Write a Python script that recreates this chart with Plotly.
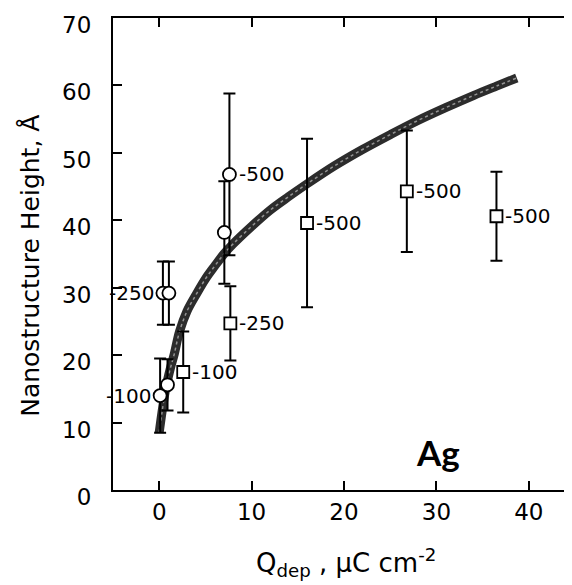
import plotly.graph_objects as go

# ---- data ----
fit_x = [0.0, 0.3, 0.7, 1.2, 1.6, 2.2, 3.0, 4.0, 5.0, 6.0, 7.0, 8.0, 10.0, 12.0, 14.0,
         16.0, 19.0, 22.0, 25.0, 28.0, 31.0, 34.0, 36.5, 38.7]
fit_y = [8.5, 11.5, 15.0, 18.0, 20.0, 23.5, 26.5, 29.0, 31.3, 33.2, 35.0, 36.5, 39.1,
         41.5, 43.5, 45.4, 48.1, 50.5, 52.7, 54.8, 56.7, 58.5, 59.9, 61.1]

circle_x = [0.1, 0.9, 0.4, 1.05, 7.05, 7.6]
circle_y = [14.0, 15.6, 29.2, 29.2, 38.2, 46.8]
circle_err = [5.5, 3.8, 4.7, 4.7, 7.6, 12.0]
circle_labels = ["-100", "", "-250", "", "", "-500"]
circle_label_side = ["left", "", "left", "", "", "right"]

square_x = [2.6, 7.7, 16.0, 26.8, 36.5]
square_y = [17.5, 24.7, 39.6, 44.3, 40.6]
square_err = [6.0, 5.5, 12.5, 9.0, 6.6]
square_labels = ["-100", "-250", "-500", "-500", "-500"]

x_ticks = [0, 10, 20, 30, 40]
y_ticks = [0, 10, 20, 30, 40, 50, 60, 70]

FONT = "DejaVu Sans"

fig = go.Figure()

# fitted curve (thick stippled band)
fig.add_trace(go.Scatter(x=fit_x, y=fit_y, mode="lines",
                         line=dict(color="#2c2c2c", width=9, shape="spline"),
                         hoverinfo="skip", showlegend=False))
fig.add_trace(go.Scatter(x=fit_x, y=fit_y, mode="lines",
                         line=dict(color="rgba(215,215,215,0.6)", width=1.5,
                                   dash="dot", shape="spline"),
                         hoverinfo="skip", showlegend=False))

err_style = dict(type="data", thickness=2, width=6, color="black")

fig.add_trace(go.Scatter(
    x=circle_x, y=circle_y, mode="markers",
    error_y=dict(array=circle_err, **err_style),
    marker=dict(symbol="circle", size=13, color="white",
                line=dict(color="black", width=1.8)),
    showlegend=False))

fig.add_trace(go.Scatter(
    x=square_x, y=square_y, mode="markers",
    error_y=dict(array=square_err, **err_style),
    marker=dict(symbol="square", size=12, color="white",
                line=dict(color="black", width=1.8)),
    showlegend=False))

annotations = []
for x, y, t, side in zip(circle_x, circle_y, circle_labels, circle_label_side):
    if not t:
        continue
    if side == "left":
        annotations.append(dict(x=x, y=y, text=t, showarrow=False, xanchor="right",
                                yanchor="middle", xshift=-7,
                                font=dict(family=FONT, size=20, color="black")))
    else:
        annotations.append(dict(x=x, y=y, text=t, showarrow=False, xanchor="left",
                                yanchor="middle", xshift=8,
                                font=dict(family=FONT, size=20, color="black")))
for x, y, t in zip(square_x, square_y, square_labels):
    annotations.append(dict(x=x, y=y, text=t, showarrow=False, xanchor="left",
                            yanchor="middle", xshift=7,
                            font=dict(family=FONT, size=20, color="black")))

# axis titles
annotations.append(dict(xref="paper", yref="paper", x=0.5, y=0, xanchor="center",
                        yanchor="middle", yshift=-72, xshift=2, showarrow=False,
                        text="Q<sub>dep</sub> , μC cm<sup>-2</sup>",
                        font=dict(family=FONT, size=26, color="black")))
annotations.append(dict(xref="paper", yref="paper", x=0, y=0.475, xanchor="center",
                        yanchor="middle", xshift=-82, textangle=-90, showarrow=False,
                        text="Nanostructure Height, Å",
                        font=dict(family=FONT, size=25, color="black")))
# "Ag" label
annotations.append(dict(xref="paper", yref="paper", x=0.703, y=0.08, xanchor="center",
                        yanchor="middle", showarrow=False, text="<b>Ag</b>",
                        font=dict(family="Lato", size=35, color="black")))

axis_common = dict(showline=True, linecolor="black", linewidth=2, mirror="ticks",
                   ticks="inside", ticklen=9, tickwidth=1.5, tickcolor="black",
                   showgrid=False, zeroline=False, automargin=False,
                   ticklabeloverflow="allow",
                   tickfont=dict(family=FONT, size=23, color="black"))

fig.update_layout(
    template="none",
    width=572, height=585,
    margin=dict(l=105, r=5, t=10, b=103),
    paper_bgcolor="white", plot_bgcolor="white",
    xaxis=dict(range=[-5, 45], tickvals=x_ticks, ticklabelstandoff=0, **axis_common),
    yaxis=dict(range=[0, 70], tickvals=y_ticks, ticklabelstandoff=15,
               ticklabelshift=7, **axis_common),
    annotations=annotations,
    showlegend=False,
)

fig.write_html("out.html")
